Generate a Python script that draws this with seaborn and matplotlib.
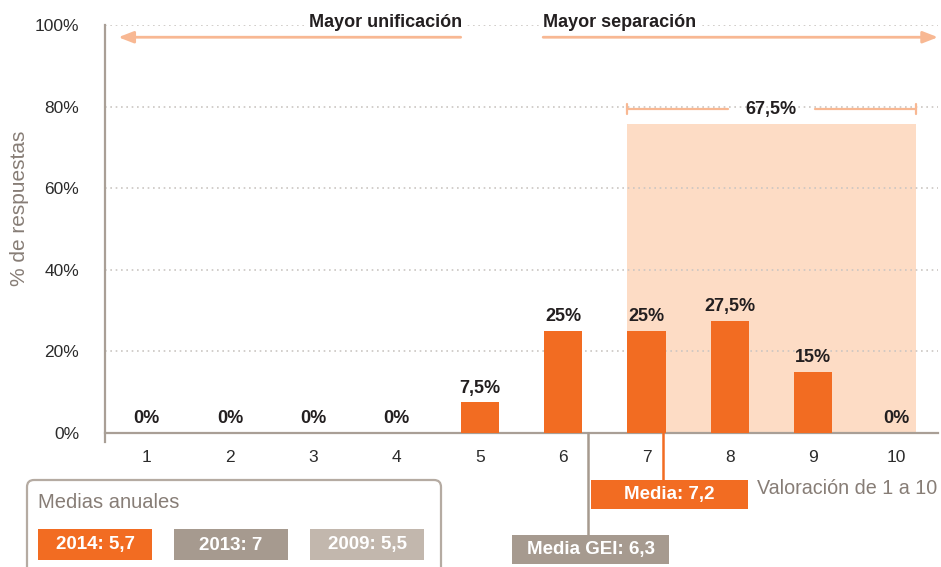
import numpy as np
import pandas as pd
import matplotlib.pyplot as plt
import seaborn as sns
from matplotlib.patches import Rectangle, FancyBboxPatch

# data
scores = [1, 2, 3, 4, 5, 6, 7, 8, 9, 10]
pct = [0, 0, 0, 0, 7.5, 25, 25, 27.5, 15, 0]
pct_labels = ['0%', '0%', '0%', '0%', '7,5%', '25%', '25%', '27,5%', '15%', '0%']
media = 7.2
media_gei = 6.3
media_labels = ['Media: 7,2', 'Media GEI: 6,3']
share_label = '67,5%'
shade_top = 75.7
yticks = [0, 20, 40, 60, 80, 100]
yearly = ['2014: 5,7', '2013: 7', '2009: 5,5']

ORANGE = '#F26C22'
SHADE = '#FDDCC5'
ARROW = '#F8B893'
SPINE = '#A99F96'
GREY_TXT = '#877D76'
DARK = '#231F20'
year_colors = [ORANGE, '#A69A8F', '#C2B7AD']

sns.set_style('white')
plt.rcParams['font.family'] = ['Liberation Sans', 'DejaVu Sans']

W, H = 941, 567
fig = plt.figure(figsize=(W / 100, H / 100), dpi=100)
ax = fig.add_axes([105 / W, 1 - 442 / H, 833 / W, 417 / H])


def px(x, y):
    # image pixel -> inches from bottom-left
    return x / 100, (H - y) / 100


df = pd.DataFrame({'score': scores, 'pct': pct})
bw = 0.46
sns.barplot(data=df, x='score', y='pct', native_scale=True, width=bw,
            color=ORANGE, saturation=1, linewidth=0, ax=ax, zorder=3)

ax.set_xlim(0.5, 10.5)
ax.set_ylim(-2.2, 100)
ax.set_xlabel('')
ax.set_ylabel('')

# shaded block for scores 7-10
ax.add_patch(Rectangle((7 - bw / 2, 0), 3 + bw, shade_top, color=SHADE, lw=0, zorder=0.2))

for s in ['top', 'right']:
    ax.spines[s].set_visible(False)
for s in ['left', 'bottom']:
    ax.spines[s].set_color(SPINE)
    ax.spines[s].set_linewidth(1.6)
ax.spines['bottom'].set_position(('data', 0))

ax.set_xticks(scores)
ax.set_xticklabels([str(s) for s in scores])
ax.set_yticks(yticks)
ax.set_yticklabels([f'{v}%' for v in yticks])
ax.set_yticks([10, 30, 50, 70, 90], minor=True)
ax.tick_params(axis='both', which='both', direction='out', color=SPINE, width=1.6,
               length=6.5, labelsize=12.5, labelcolor='#2b2b2b')
ax.tick_params(axis='y', pad=12)
ax.tick_params(axis='x', pad=6)

ax.set_axisbelow(True)
ax.yaxis.grid(True, which='major', color='#CBC6C2', lw=1.2, linestyle=(0, (1, 2.2)))
ax.xaxis.grid(False)

for x, v, lab in zip(scores, pct, pct_labels):
    ax.text(x, v + 2.4, lab, ha='center', va='baseline', fontsize=13,
            fontweight='bold', color=DARK, zorder=5)

# direction arrows and headers
arr = dict(arrowstyle='-|>,head_length=0.9,head_width=0.35', color=ARROW, lw=2,
           shrinkA=0, shrinkB=0)
ax.annotate('', xy=(0.66, 97), xytext=(4.77, 97), arrowprops=arr, annotation_clip=False)
ax.annotate('', xy=(10.5, 97), xytext=(5.76, 97), arrowprops=arr, annotation_clip=False)
tb = dict(facecolor='white', edgecolor='none', pad=2)
ax.text(4.79, 100.6, 'Mayor unificación', ha='right', va='center', fontsize=13,
        fontweight='bold', color=DARK, bbox=tb, clip_on=False, zorder=5)
ax.text(5.76, 100.6, 'Mayor separación', ha='left', va='center', fontsize=13,
        fontweight='bold', color=DARK, bbox=tb, clip_on=False, zorder=5)

# bracket over 7-10
by = 79.4
x0, x1 = 7 - bw / 2, 10 + bw / 2
ax.plot([x0, 7.98], [by, by], color=ARROW, lw=1.6, zorder=4)
ax.plot([9.02, x1], [by, by], color=ARROW, lw=1.6, zorder=4)
for xe in (x0, x1):
    ax.plot([xe, xe], [by - 1.3, by + 1.3], color=ARROW, lw=1.6, zorder=4)
ax.text((x0 + x1) / 2, by, share_label, ha='center', va='center', fontsize=13,
        fontweight='bold', color=DARK, zorder=5)

# mean markers
ax.plot([media, media], [0, -11.5], color=ORANGE, lw=1.8, clip_on=False, zorder=4)
ax.add_patch(Rectangle((media - 0.87, -18.6), 1.89, 7.1, color=ORANGE, lw=0, clip_on=False))
ax.text(media + 0.075, -15.05, media_labels[0], ha='center', va='center', fontsize=13.5,
        fontweight='bold', color='white', clip_on=False)
ax.plot([media_gei, media_gei], [0, -25], color='#A69A8F', lw=1.8, clip_on=False, zorder=4)
ax.add_patch(Rectangle((media_gei - 0.91, -32.1), 1.88, 7.1, color='#A69A8F', lw=0, clip_on=False))
ax.text(media_gei + 0.03, -28.55, media_labels[1], ha='center', va='center', fontsize=13.5,
        fontweight='bold', color='white', clip_on=False)

# axis titles
fig.text(*px(937, 488), 'Valoración de 1 a 10', ha='right', va='center', fontsize=14.2,
         color=GREY_TXT, transform=fig.dpi_scale_trans)
fig.text(*px(20, 208), '% de respuestas', ha='center', va='center', fontsize=15,
         color=GREY_TXT, rotation=90, transform=fig.dpi_scale_trans)

# yearly means box
lx, ly = px(27, 600)
fig.add_artist(FancyBboxPatch((lx, ly), 4.14, 1.2, boxstyle='round,pad=0,rounding_size=0.07',
                              facecolor='white', edgecolor='#B5ABA2', lw=1.6,
                              transform=fig.dpi_scale_trans))
fig.text(*px(38, 503), 'Medias anuales', ha='left', va='center', fontsize=14.5,
         color=GREY_TXT, transform=fig.dpi_scale_trans)
for i, (lab, c) in enumerate(zip(yearly, year_colors)):
    bx = 38 + i * 136
    fig.add_artist(Rectangle(px(bx, 560), 1.14, 0.31, color=c, lw=0,
                             transform=fig.dpi_scale_trans))
    fig.text(*px(bx + 57, 545), lab, ha='center', va='center', fontsize=13.5,
             fontweight='bold', color='white', transform=fig.dpi_scale_trans)

fig.savefig('out.png', dpi=100)
